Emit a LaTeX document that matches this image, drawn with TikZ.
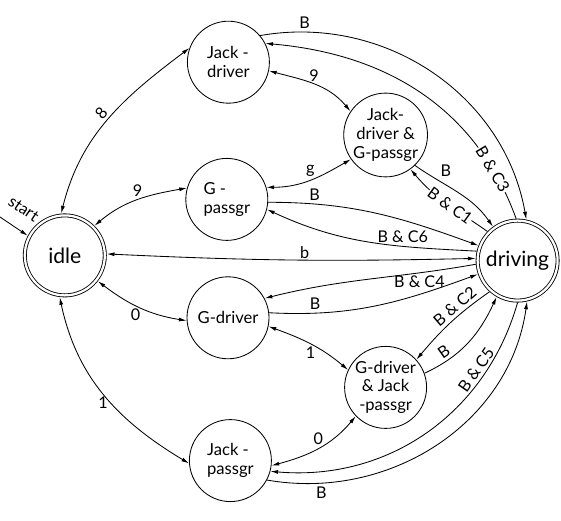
\documentclass[tikz,border=0pt]{standalone}
\usepackage{fontspec}
\setmainfont{Lato}
\usetikzlibrary{arrows.meta}

\begin{document}
\begin{tikzpicture}[>={Latex[length=5.5pt,width=2.8pt]}, line width=0.6pt]
    % --- Styles ---
    \tikzstyle{plain_state}=[draw, circle, minimum size=2.05cm, inner sep=0pt, font=\fontsize{11.8}{13.5}\selectfont]
    \tikzstyle{final_state}=[draw, circle, double, double distance=1.6pt, outer sep=1.4pt, minimum size=2cm, inner sep=0pt, font=\fontsize{15}{17}\selectfont]
    \tikzstyle{edge_label}=[font=\fontsize{11.5}{13}\selectfont, inner sep=2pt]
    \tikzstyle{on_edge}=[edge_label, sloped, fill=white, inner sep=0.5pt]

    \useasboundingbox (0,0) rectangle (14.025,13.025);

    % --- 1. States ---
    \node[final_state] (idle) at (1.62,6.64) {idle};
    \node[final_state] (drv) at (12.94,6.51) {driving};
    \node[plain_state, align=left] (jd) at (5.71,11.47) {Jack -\\driver};
    \node[plain_state, align=left] (gp) at (5.67,8.04) {G -\\passgr};
    \node[plain_state] (gd) at (5.7,5.08) {G-driver};
    \node[plain_state, align=left] (jp) at (5.76,1.51) {Jack -\\passgr};
    \node[plain_state, align=center] (jdgp) at (9.64,9.65) {Jack-\\driver \&\\G-passgr};
    \node[plain_state, align=center] (gdjp) at (9.64,3.34) {G-driver\\\& Jack\\-passgr};

    \coordinate (start) at (0,7.6);
    \draw[->] (start) -- (idle.152) node[edge_label, pos=0.45, sloped, above=8pt] {start};

    % --- 2. Transitions from idle ---
    \draw[<->] (idle.95) to[out=76, in=217] node[edge_label, sloped, above] {8} (jd.160);
    \draw[<->] (idle.45) to[out=40, in=190] node[edge_label, above] {9} (gp.164);
    \draw[<->] (idle.2) to[bend right=2] node[edge_label, pos=0.54, above=-1pt] {b} (drv.177);
    \draw[<->] (idle.-38) to[out=-37, in=171] node[edge_label, pos=0.45, below] {0} (gd.184);
    \draw[<->] (idle.-97) to[out=-78, in=149] node[edge_label, pos=0.55, left] {1} (jp.184);

    % --- 3. Upper half ---
    \draw[->] (jd.40) to[out=10, in=100] node[edge_label, pos=0.12, above] {B} (drv.78);
    \draw[->] (drv.92) to[out=110, in=-5] node[on_edge, pos=0.16] {B \& C3} (jd.27);
    \draw[<->] (jd.-12) to[out=-15, in=130] node[edge_label, above] {9} (jdgp.146);
    \draw[<->] (gp.17) to[out=0, in=210] node[edge_label, above] {g} (jdgp.215);
    \draw[->] (gp.-4) to[out=0, in=160] node[edge_label, pos=0.2, above] {B} (drv.159);
    \draw[->] (drv.167) to[out=177, in=-25] node[edge_label, pos=0.33, above] {B \& C6} (gp.-14);
    \draw[->] (jdgp.-46) to[out=-35, in=125] node[edge_label, pos=0.25, above right] {B} (drv.126);
    \draw[->] (drv.136) to[out=145, in=-50] node[on_edge, pos=0.45] {B \& C1} (jdgp.-54);

    % --- 4. Lower half ---
    \draw[->] (drv.185) to[out=190, in=14] node[edge_label, pos=0.25, below] {B \& C4} (gd.28);
    \draw[->] (gd.7) to[out=-3, in=200] node[edge_label, pos=0.2, above] {B} (drv.199);
    \draw[<->] (gd.-12) to[out=-20, in=140] node[edge_label, below] {1} (gdjp.155);
    \draw[->] (drv.228) to[out=215, in=50] node[edge_label, pos=0.35, sloped, above] {B \& C2} (gdjp.42);
    \draw[->] (gdjp.20) to[out=25, in=245] node[edge_label, pos=0.25, sloped, above] {B} (drv.240);
    \draw[<->] (jp.-7) to[out=15, in=230] node[edge_label, above] {0} (gdjp.224);
    \draw[->] (drv.270) to[out=254, in=-5] node[edge_label, pos=0.24, sloped, above] {B \& C5} (jp.-15);
    \draw[->] (jp.-28) to[out=-10, in=-98] node[edge_label, pos=0.15, below] {B} (drv.283);

\end{tikzpicture}
\end{document}
